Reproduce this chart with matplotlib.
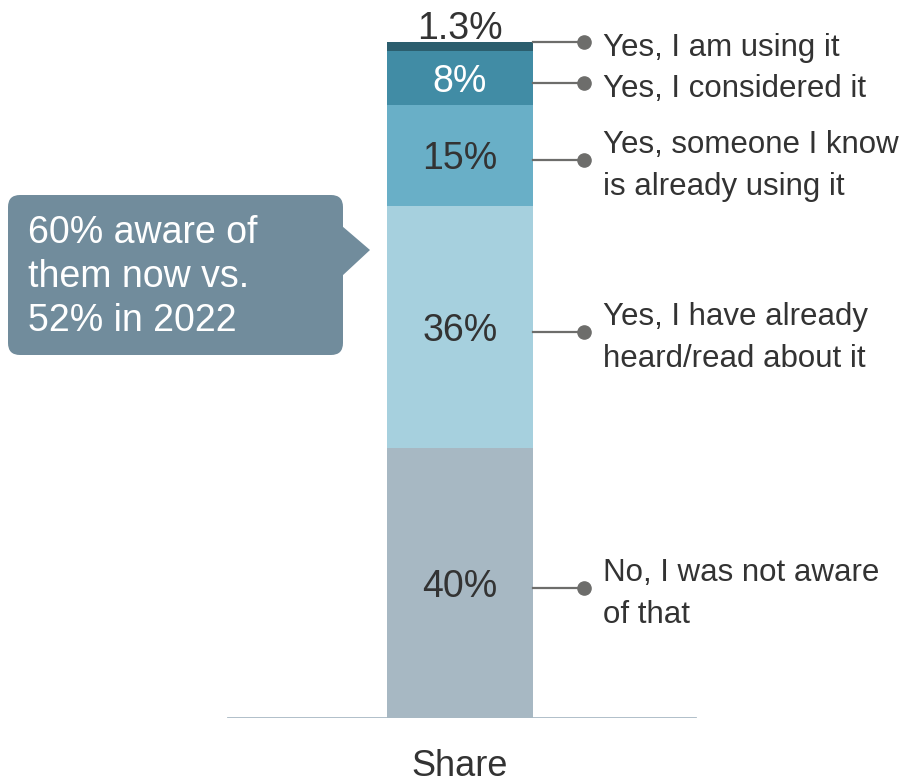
import matplotlib.pyplot as plt
from matplotlib.patches import FancyBboxPatch, Polygon
from matplotlib.transforms import offset_copy

# Survey answers, stacked bottom to top
answers = [
    "No, I was not aware\nof that",
    "Yes, I have already\nheard/read about it",
    "Yes, someone I know\nis already using it",
    "Yes, I considered it",
    "Yes, I am using it",
]
shares = [40, 36, 15, 8, 1.3]
share_labels = ["40%", "36%", "15%", "8%", "1.3%"]
colors = ["#a7b8c3", "#a6d0de", "#69afc7", "#418ca5", "#2b5e6e"]
label_colors = ["#333333", "#333333", "#333333", "#ffffff", "#333333"]
category = "Share"
callout_text = "60% aware of\nthem now vs.\n52% in 2022"

plt.rcParams['font.family'] = ['Liberation Sans', 'DejaVu Sans']

W, H = 919, 784
fig = plt.figure(figsize=(W / 100, H / 100), dpi=100)

# bar axes: one unit of x = 146 px, bar centred at x = 460 px
px = 146
ax = fig.add_axes([0, 66 / H, 1, 676 / H])
ax.patch.set_visible(False)
ax.set_xlim(-460 / px, (W - 460) / px)
ax.set_ylim(0, sum(shares))
for s in ax.spines.values():
    s.set_visible(False)
ax.set_yticks([])
ax.set_xticks([0])
ax.set_xticklabels([category], fontsize=26, color="#333333")
ax.tick_params(axis="x", length=0, pad=22)

bottom = 0
mids = []
for val, col in zip(shares, colors):
    ax.bar(0, val, width=1, bottom=bottom, color=col, zorder=3)
    mids.append(bottom + val / 2)
    bottom += val
total = bottom

ax.axhline(0, xmin=228 / W, xmax=695 / W, color="#a9b9c4", lw=2, zorder=2)

# value labels inside the segments, the thin top one sits above the bar
for i, (mid, lab, tc) in enumerate(zip(mids, share_labels, label_colors)):
    if i == len(shares) - 1:
        ax.annotate(lab, (0, total), xytext=(0, 12.5), textcoords="offset points",
                    ha="center", va="center_baseline", fontsize=27, color=tc,
                    zorder=4)
    else:
        ax.text(0, mid, lab, ha="center", va="center_baseline", fontsize=27,
                color=tc, zorder=4)

# leader lines with dots and answer labels
dot_x = (584 - 460) / px
text_x = (603 - 460) / px
shifted = offset_copy(ax.transData, fig=fig, x=0, y=-5, units="dots")
for i, (mid, ans) in enumerate(zip(mids, answers)):
    if i == len(shares) - 1:
        y, tr = total, ax.transData
    else:
        y, tr = mid, shifted
    ax.plot([0.5, dot_x], [y, y], color="#6d6d6b", lw=1.6, transform=tr,
            zorder=4, clip_on=False)
    ax.plot([dot_x], [y], "o", color="#6d6d6b", ms=9.5, transform=tr,
            zorder=5, clip_on=False)
    txt_tr = offset_copy(tr, fig=fig, x=0, y=-6, units="dots")
    ax.text(text_x, y, ans, ha="left", va="center", fontsize=22.5,
            color="#333333", linespacing=1.5, transform=txt_tr, clip_on=False)

# callout box on the left, in pixel coordinates
ov = fig.add_axes([0, 0, 1, 1])
ov.patch.set_visible(False)
ov.set_xlim(0, W)
ov.set_ylim(H, 0)
ov.axis("off")
box = FancyBboxPatch((8 + 12, 195 + 12), 335 - 24, 160 - 24,
                     boxstyle="round,pad=12", fc="#718c9c", ec="none")
ov.add_patch(box)
ov.add_patch(Polygon([(342, 226), (370, 250), (342, 276)], closed=True,
                     fc="#718c9c", ec="none"))
ov.text(28, 277, callout_text, ha="left", va="center", fontsize=27,
        color="white", linespacing=1.3)

fig.savefig("out.png", dpi=100)
